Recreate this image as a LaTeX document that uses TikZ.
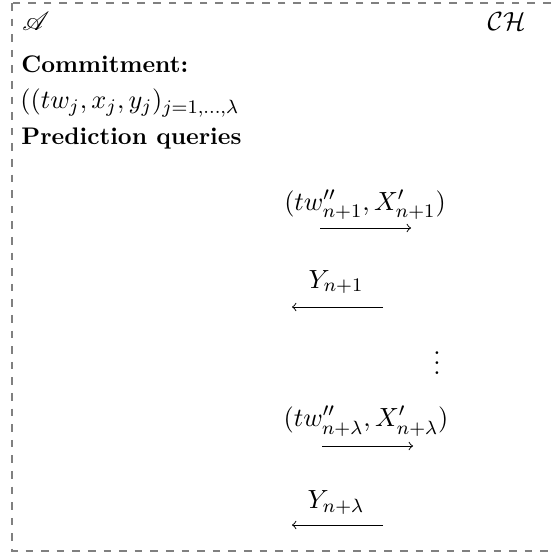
\documentclass[tikz,border=0pt]{standalone}
\usepackage{amsmath,amssymb}
\usepackage{mathrsfs}
\begin{document}
\begin{tikzpicture}[x=0.4167pt,y=-0.4167pt,
  frame/.style={draw=gray,line width=0.5pt,dash pattern=on 3.2pt off 3.3pt},
  txt/.style={anchor=base west,inner sep=0pt},
  mth/.style={inner sep=0pt,font=\fontsize{10.95}{13}\selectfont},
  lbl/.style={anchor=base,inner sep=0pt,font=\fontsize{10.95}{13}\selectfont},
  msg/.style={->,line width=0.4pt}]
\useasboundingbox (0,0) rectangle (550,556);
\draw[frame] (12,3) rectangle (560,551);
\node[mth,anchor=base west] (adv) at (22,31) {$\mathscr{A}$};
\node[mth,anchor=base east] (ch) at (526,31) {$\mathcal{CH}$};
\node[txt] (commit) at (21,73) {\textbf{Commitment:}};
\node[mth,anchor=base west] (tuple) at (20,109) {$((tw_j,x_j,y_j)_{j=1,\dots,\lambda}$};
\node[txt] (pred) at (21,144) {\textbf{Prediction queries}};
\node[lbl] (q1) at (365,210) {$(tw''_{n+1},X'_{n+1})$};
\coordinate (q1s) at (320,228); \coordinate (q1e) at (411,228);
\draw[msg] (q1s) -- (q1e);
\node[lbl] (a1) at (336,288) {$Y_{n+1}$};
\coordinate (a1s) at (383,307); \coordinate (a1e) at (292,307);
\draw[msg] (a1s) -- (a1e);
\node[lbl] (dots) at (437,374) {$\vdots$};
\node[lbl] (q2) at (366,426) {$(tw''_{n+\lambda},X'_{n+\lambda})$};
\coordinate (q2s) at (322,446); \coordinate (q2e) at (413,446);
\draw[msg] (q2s) -- (q2e);
\node[lbl] (a2) at (336,508) {$Y_{n+\lambda}$};
\coordinate (a2s) at (383,525); \coordinate (a2e) at (292,525);
\draw[msg] (a2s) -- (a2e);
\end{tikzpicture}
\end{document}
